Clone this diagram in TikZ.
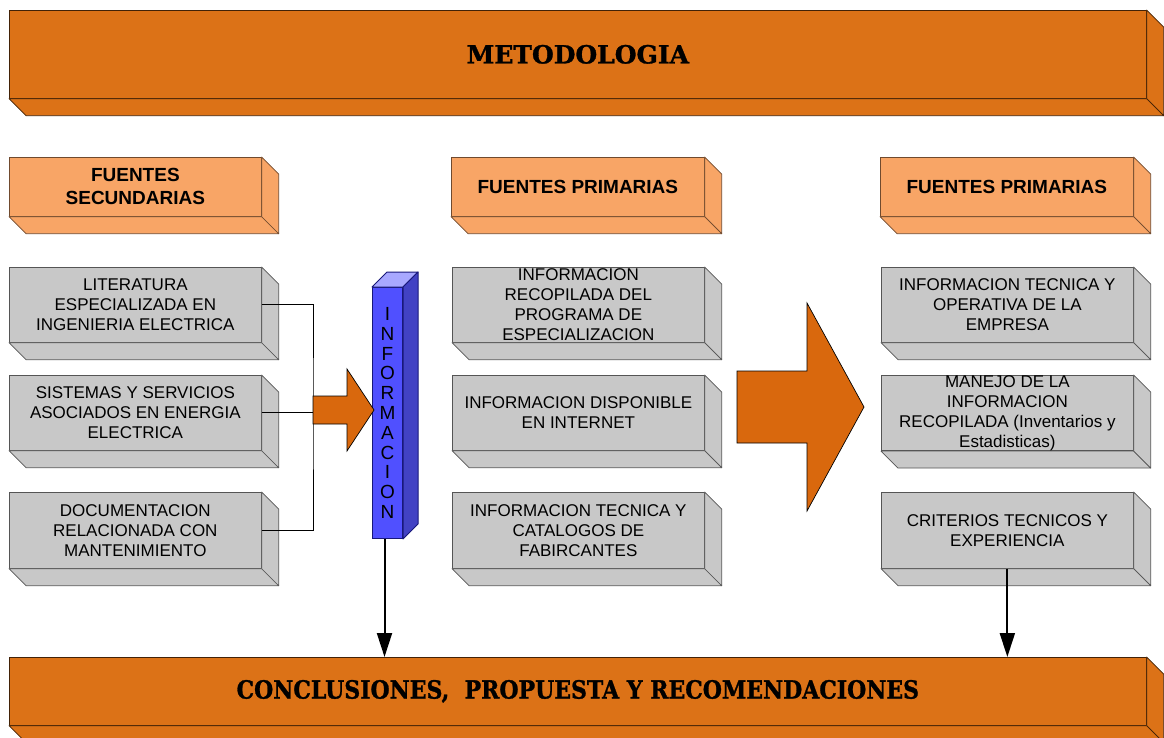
\documentclass[tikz,border=0pt]{standalone}
\usepackage{fontspec}
\setmainfont{Liberation Sans}
\newfontfamily\headfont{DejaVu Serif}[BoldFeatures={FakeBold=1.2}]
\usetikzlibrary{calc,arrows.meta}

\definecolor{bannerorange}{HTML}{DC7217}
\definecolor{headorange}{HTML}{F8A566}
\definecolor{slabgray}{HTML}{C8C8C8}
\definecolor{arroworange}{HTML}{D9680D}
\definecolor{infoblue}{HTML}{5050FF}
\definecolor{infotop}{HTML}{A8A8FF}
\definecolor{infoside}{HTML}{4242C4}
\definecolor{infoedge}{HTML}{18187A}
\definecolor{slabedge}{HTML}{555555}

\tikzset{
  slab/.style={draw=slabedge, line width=0.7pt, rectangle, inner sep=0pt,
    anchor=north west, align=center},
  banner/.style={slab, fill=bannerorange, draw=black!70!bannerorange,
    font=\headfont\bfseries\fontsize{25}{28}\selectfont},
  header/.style={slab, fill=headorange, draw=black!55!headorange,
    font=\bfseries\fontsize{19}{23}\selectfont},
  source/.style={slab, fill=slabgray, minimum width=252pt,
    font=\fontsize{17}{20}\selectfont},
  blockarrow/.style={fill=arroworange, draw=black, line width=0.7pt, line join=miter},
  link/.style={draw=black, line width=0.9pt},
  downarrow/.style={draw=black, line width=2pt, -{Triangle[length=24pt,width=15pt]}},
}

% side and bottom faces of an extruded slab (depth towards lower right)
\newcommand\slabfaces[4]{%
  \filldraw[fill=#2, draw=#3, line width=0.7pt, line join=round]
    (#1.south west) -- ($(#1.south west)+(#4,#4)$) -- ($(#1.south east)+(#4,#4)$)
    -- (#1.south east) -- cycle;
  \filldraw[fill=#2, draw=#3, line width=0.7pt, line join=round]
    (#1.north east) -- ($(#1.north east)+(#4,#4)$) -- ($(#1.south east)+(#4,#4)$)
    -- (#1.south east) -- cycle;
}

\begin{document}
\begin{tikzpicture}[x=1pt, y=-1pt]
\useasboundingbox (0,0) rectangle (1164,738);

% banners
\node[banner, minimum width=1137pt, minimum height=88pt] (top) at (9,10) {METODOLOGIA};
\slabfaces{top}{bannerorange}{black!70!bannerorange}{17}
\node[banner, minimum width=1137pt, minimum height=68pt] (bottom) at (9,657)
  {\scalebox{0.88}[1]{CONCLUSIONES,\ \ PROPUESTA Y RECOMENDACIONES}};
\slabfaces{bottom}{bannerorange}{black!70!bannerorange}{17}

% column headers
\node[header, minimum width=252pt, minimum height=59pt] (hs) at (9,157) {FUENTES\\SECUNDARIAS};
\slabfaces{hs}{headorange}{black!55!headorange}{17}
\node[header, minimum width=253pt, minimum height=59pt] (hp) at (451,157) {FUENTES PRIMARIAS};
\slabfaces{hp}{headorange}{black!55!headorange}{17}
\node[header, minimum width=253pt, minimum height=59pt] (hq) at (880,157) {FUENTES PRIMARIAS};
\slabfaces{hq}{headorange}{black!55!headorange}{17}

% secondary sources
\node[source, minimum height=75pt] (l1) at (9,267) {LITERATURA\\ESPECIALIZADA EN\\INGENIERIA ELECTRICA};
\slabfaces{l1}{slabgray}{slabedge}{17}
\node[source, minimum height=75pt] (l2) at (9,375) {SISTEMAS Y SERVICIOS\\ASOCIADOS EN ENERGIA\\ELECTRICA};
\slabfaces{l2}{slabgray}{slabedge}{17}
\node[source, minimum height=76pt] (l3) at (9,492) {DOCUMENTACION\\RELACIONADA CON\\MANTENIMIENTO};
\slabfaces{l3}{slabgray}{slabedge}{17}

% primary sources, middle column
\node[source, minimum height=75pt] (m1) at (452,267) {INFORMACION\\RECOPILADA DEL\\PROGRAMA DE\\ESPECIALIZACION};
\slabfaces{m1}{slabgray}{slabedge}{17}
\node[source, minimum height=75pt] (m2) at (452,375) {INFORMACION DISPONIBLE\\EN INTERNET};
\slabfaces{m2}{slabgray}{slabedge}{17}
\node[source, minimum height=76pt] (m3) at (452,492) {INFORMACION TECNICA Y\\CATALOGOS DE\\FABIRCANTES};
\slabfaces{m3}{slabgray}{slabedge}{17}

% primary sources, right column
\node[source, minimum height=75pt] (r1) at (881,267) {INFORMACION TECNICA Y\\OPERATIVA DE LA\\EMPRESA};
\slabfaces{r1}{slabgray}{slabedge}{17}
\node[source, minimum height=75pt] (r2) at (881,375) {MANEJO DE LA\\INFORMACION\\RECOPILADA (Inventarios y\\Estadisticas)};
\slabfaces{r2}{slabgray}{slabedge}{17}
\node[source, minimum height=76pt] (r3) at (881,492) {CRITERIOS TECNICOS Y\\EXPERIENCIA};
\slabfaces{r3}{slabgray}{slabedge}{17}

% gathering lines from the secondary sources
\coordinate (tail) at (313,410);
\draw[link] (l1.east) -| (tail) |- (l3.east);
\draw[link] (l2.east) -- (l2.east -| tail);

% INFORMACION column
\node[draw=infoedge, fill=infoblue, line width=1pt, minimum width=30pt, minimum height=251pt,
  anchor=north west, inner sep=0pt, align=center,
  font=\fontsize{19}{19.8}\selectfont] (info) at (372,287)
  {I\\N\\F\\O\\R\\M\\A\\C\\I\\O\\N};
\filldraw[fill=infotop, draw=infoedge, line width=1pt, line join=round]
  (info.north west) -- ($(info.north west)+(15,-15)$) -- ($(info.north east)+(15,-15)$)
  -- (info.north east) -- cycle;
\filldraw[fill=infoside, draw=infoedge, line width=1pt, line join=round]
  (info.north east) -- ($(info.north east)+(15,-15)$) -- ($(info.south east)+(15,-15)$)
  -- (info.south east) -- cycle;

% small block arrow into the column
\coordinate (smalltip) at (374,410);
\filldraw[blockarrow] ($(tail)+(0,-14)$) -- ($(tail)+(34,-14)$) -- ($(tail)+(34,-41)$)
  -- (smalltip) -- ($(tail)+(34,41)$) -- ($(tail)+(34,14)$) -- ($(tail)+(0,14)$) -- cycle;

% large block arrow between the primary columns
\coordinate (bigtail) at (737,407);
\filldraw[blockarrow] ($(bigtail)+(0,-36)$) -- ($(bigtail)+(70,-36)$) -- ($(bigtail)+(70,-104)$)
  -- ($(bigtail)+(127,0)$) -- ($(bigtail)+(70,104)$) -- ($(bigtail)+(70,36)$)
  -- ($(bigtail)+(0,36)$) -- cycle;

% arrows down to the conclusions
\draw[downarrow] ([xshift=-3pt]info.south) -- ([xshift=-3pt]info.south |- bottom.north);
\draw[downarrow] (r3.south) -- (r3.south |- bottom.north);
\end{tikzpicture}
\end{document}
